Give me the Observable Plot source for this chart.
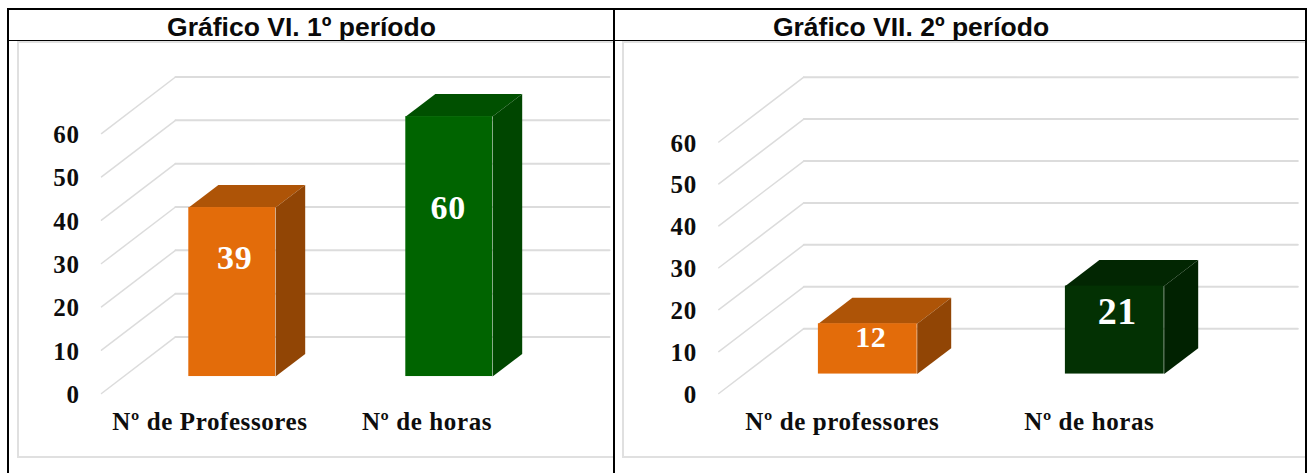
<!DOCTYPE html>
<html lang="pt">
<head>
<meta charset="utf-8">
<script src="https://cdn.jsdelivr.net/npm/d3@7"></script>
<script src="https://cdn.jsdelivr.net/npm/@observablehq/plot@0.6"></script>
<style>
  html, body { margin: 0; padding: 0; background: #fff; width: 1308px; height: 473px; overflow: hidden; }
  #page { position: relative; width: 1308px; height: 473px; }
  .rule { position: absolute; background: #000; }
  .title { position: absolute; top: 13px; text-align: center; white-space: nowrap;
           font: bold 26.5px "Liberation Sans", Arial, sans-serif; line-height: 28px; color: #0a0a0a; }
  .chart { position: absolute; box-sizing: border-box; top: 41px; height: 417px; overflow: hidden; }
  .chart .edge { position: absolute; background: #e0e0e0; }
  .chart svg { position: absolute; left: 0; top: 0; }
  .chart svg text { letter-spacing: 0.6px; }
</style>
</head>
<body>
<div id="page"></div>
<script>
const titleA = "Gráfico VI. 1º período";
const titleB = "Gráfico VII. 2º período";
const categoriesA = ["Nº de Professores", "Nº de horas"];
const categoriesB = ["Nº de professores", "Nº de horas"];
const valuesA = [39, 60];
const valuesB = [12, 21];
const yTicks = [0, 10, 20, 30, 40, 50, 60];

const orange = {front: "#e36c0a", top: "#ae5407", side: "#914505"};
const greenA = {front: "#006400", top: "#005000", side: "#004600"};
const greenB = {front: "#033103", top: "#022602", side: "#012201"};

const GRID = "#dcdcdc";
const SERIF = '"Liberation Serif", serif';

function panel({categories, values, palettes, labelSizes, labelShiftX, labelShiftY, width,
                marginLeft, marginRight, marginTop, depthX, depthY}) {
  const height = 417, marginBottom = 65;
  const at = (x, v, d) => ({x: x + d * depthX, y: v + d * depthY});
  const near = 0.3, far = 0.7, half = 0.2;

  const marks = yTicks.flatMap(v => [
    Plot.line([at(0, v, 0), at(0, v, 1)], {x: "x", y: "y", stroke: GRID, strokeWidth: 1.5}),
    Plot.line([at(0, v, 1), at(2, v, 1)], {x: "x", y: "y", stroke: GRID, strokeWidth: 2})
  ]);

  values.forEach((v, i) => {
    const x1 = i + 0.5 - half, x2 = i + 0.5 + half;
    const p = palettes[i];
    marks.push(
      Plot.line([at(x1, v, near), at(x2, v, near), at(x2, v, far), at(x1, v, far)],
        {x: "x", y: "y", fill: p.top, stroke: "none"}),
      Plot.line([at(x2, 0, near), at(x2, v, near), at(x2, v, far), at(x2, 0, far)],
        {x: "x", y: "y", fill: p.side, stroke: "none"}),
      Plot.rect([{x1: at(x1, 0, near).x, x2: at(x2, 0, near).x,
                  y1: at(x1, 0, near).y, y2: at(x1, v, near).y}],
        {x1: "x1", x2: "x2", y1: "y1", y2: "y2", fill: p.front}),
      Plot.text([v], {
        x: () => at(i + 0.5, 0, near).x,
        y: d => at(0, d / 2, near).y,
        text: d => String(d),
        dx: labelShiftX[i],
        dy: labelShiftY[i],
        fill: "#fff",
        fontFamily: SERIF,
        fontWeight: "bold",
        fontSize: labelSizes[i],
        textAnchor: "middle",
        lineAnchor: "middle"
      })
    );
  });

  marks.push(
    Plot.axisY({
      ticks: yTicks, tickSize: 0, tickPadding: 22, label: null, anchor: "left", dy: 1.5,
      fontFamily: SERIF, fontWeight: "bold", fontSize: 25, fill: "#0d0d0d"
    }),
    Plot.axisX({
      ticks: [0.5, 1.5], tickSize: 0, tickPadding: 19, label: null, anchor: "bottom",
      tickFormat: d => categories[Math.floor(d)],
      fontFamily: SERIF, fontWeight: "bold", fontSize: 25, fill: "#0d0d0d"
    })
  );

  return Plot.plot({
    width, height, marginLeft, marginRight, marginTop, marginBottom,
    x: {domain: [0, 2 + depthX], axis: null},
    y: {domain: [0, 60 + depthY], axis: null},
    style: {background: "transparent", overflow: "visible"},
    marks
  });
}

const page = document.getElementById("page");
function rule(l, t, w, h) {
  const d = document.createElement("div");
  d.className = "rule";
  Object.assign(d.style, {left: l + "px", top: t + "px", width: w + "px", height: h + "px"});
  page.appendChild(d);
}
function title(text, centre) {
  const d = document.createElement("div");
  d.className = "title";
  d.textContent = text;
  Object.assign(d.style, {left: (centre - 300) + "px", width: "600px"});
  page.appendChild(d);
}
function chart(svg, left, width, edges) {
  const box = document.createElement("div");
  box.className = "chart";
  Object.assign(box.style, {left: left + "px", width: width + "px"});
  edges.forEach(([l, t, w, h]) => {
    const e = document.createElement("div");
    e.className = "edge";
    Object.assign(e.style, {left: l + "px", top: t + "px", width: w + "px", height: h + "px"});
    box.appendChild(e);
  });
  box.appendChild(svg);
  page.appendChild(box);
}

chart(panel({
  categories: categoriesA, values: valuesA, palettes: [orange, greenA],
  labelSizes: [34, 34], labelShiftX: [2.5, -1], labelShiftY: [-34, -38],
  width: 597, marginLeft: 84, marginRight: 5, marginTop: 35.5,
  depthX: 74 / 217, depthY: 13.05
}), 17, 597, [[0, 0, 2, 417], [0, 0, 597, 2], [0, 415, 597, 2]]);

chart(panel({
  categories: categoriesB, values: valuesB, palettes: [orange, greenB],
  labelSizes: [30, 38], labelShiftX: [3, 2.5], labelShiftY: [-12, -18],
  width: 684, marginLeft: 96.3, marginRight: 8.7, marginTop: 35.7,
  depthX: 85 / 247, depthY: 15.46
}), 622, 684, [[0, 0, 2, 417], [0, 0, 684, 2], [0, 415, 684, 2]]);

rule(7, 8, 1300, 2);
rule(7, 40, 1300, 1);
rule(7, 8, 2, 465);
rule(613, 8, 2, 465);
rule(1305, 8, 2, 465);
title(titleA, 301.5);
title(titleB, 911);
</script>
</body>
</html>
